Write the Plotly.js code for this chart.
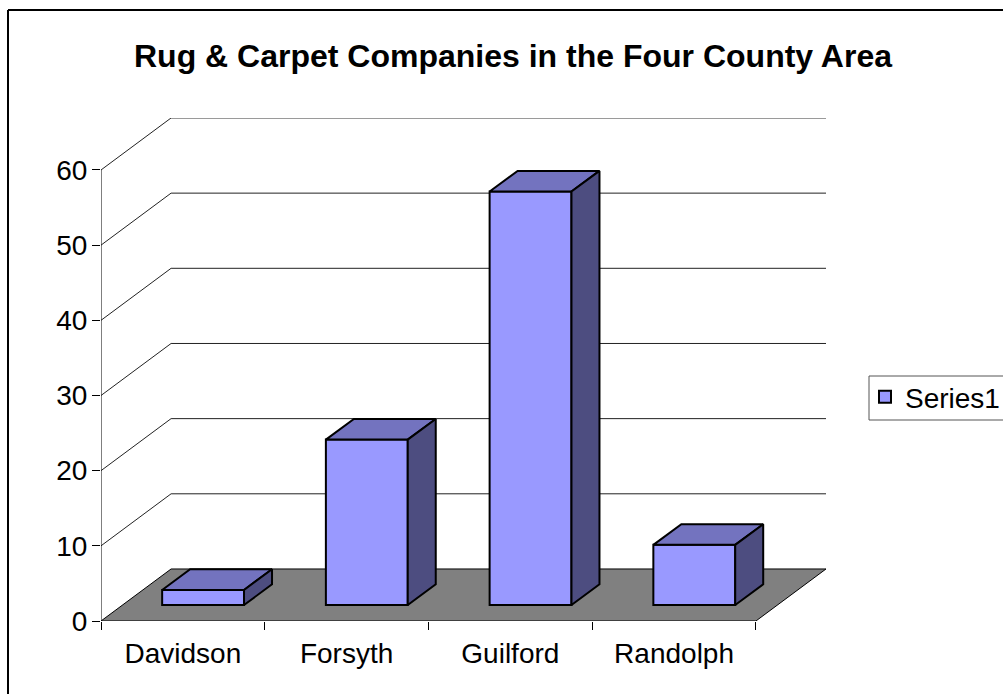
<!DOCTYPE html>
<html><head><meta charset="utf-8">
<script src="https://cdn.plot.ly/plotly-3.0.1.min.js"></script>
<style>html,body{margin:0;padding:0;background:#fff;overflow:hidden}</style>
</head><body><div id="chart" style="width:1003px;height:694px"></div>
<script>
var chartTitle = "Rug & Carpet Companies in the Four County Area";
var seriesName = "Series1";
var categories = ["Davidson", "Forsyth", "Guilford", "Randolph"];
var values = [2, 22, 55, 8];
var yTicks = [0, 10, 20, 30, 40, 50, 60];

var fontFamily = "Liberation Sans, Arial, sans-serif";
var wallDx = 0.428, wallDy = 6.92;
var barLeft = 0.3735, barWidth = 0.5, barBase = 2.13, barDx = 0.171, barDy = 2.75;
var nCat = categories.length;
var xIdx = categories.map(function (c, i) { return i; });

var traces = [];
// floor
traces.push({type: "scatter", mode: "lines", xaxis: "x", yaxis: "y", showlegend: false, hoverinfo: "skip",
  x: [0, nCat, nCat + wallDx, wallDx, 0], y: [0, 0, wallDy, wallDy, 0],
  fill: "toself", fillcolor: "#808080", line: {color: "#000", width: 1}});
// walls: gridlines for each tick above zero
yTicks.forEach(function (t) {
  if (t === 0) return;
  traces.push({type: "scatter", mode: "lines", xaxis: "x", yaxis: "y", showlegend: false, hoverinfo: "skip",
    x: [0, wallDx, nCat + wallDx], y: [t, t + wallDy, t + wallDy],
    line: {color: "#222", width: 1}});
});
// value axis line
traces.push({type: "scatter", mode: "lines", xaxis: "x", yaxis: "y", showlegend: false, hoverinfo: "skip",
  x: [0, 0], y: [0, yTicks[yTicks.length - 1]], line: {color: "#000", width: 1}});
// column fronts
traces.push({type: "bar", name: seriesName, xaxis: "x2", yaxis: "y", hoverinfo: "y",
  x: xIdx.map(function (i) { return i + barLeft + barWidth / 2; }),
  y: values, base: values.map(function () { return barBase; }), width: barWidth,
  marker: {color: "#9999FF", line: {color: "#000", width: 2}}});
// column tops and sides
values.forEach(function (v, i) {
  var l = i + barLeft, r = l + barWidth, top = barBase + v;
  traces.push({type: "scatter", mode: "lines", xaxis: "x2", yaxis: "y", showlegend: false, hoverinfo: "skip",
    x: [l, r, r + barDx, l + barDx, l], y: [top, top, top + barDy, top + barDy, top],
    fill: "toself", fillcolor: "#7373BF", line: {color: "#000", width: 2}});
  traces.push({type: "scatter", mode: "lines", xaxis: "x2", yaxis: "y", showlegend: false, hoverinfo: "skip",
    x: [r, r + barDx, r + barDx, r, r], y: [barBase, barBase + barDy, top + barDy, top, barBase],
    fill: "toself", fillcolor: "#4D4D80", line: {color: "#000", width: 2}});
});

var W = 1003, H = 694, mL = 101, mR = 177, mT = 118, mB = 73;
var pw = W - mL - mR, ph = H - mT - mB;
var px = function (p) { return (p - mL) / pw; };
var py = function (p) { return (H - mB - p) / ph; };

var layout = {
  width: W, height: H, paper_bgcolor: "#fff", plot_bgcolor: "rgba(0,0,0,0)",
  margin: {l: mL, r: mR, t: mT, b: mB, pad: 0, autoexpand: false},
  font: {family: fontFamily, color: "#000", size: 28},
  bargap: 0,
  title: {text: "<b>" + chartTitle + "</b>", x: 513 / W, xanchor: "center", xref: "container",
    y: 1 - 56 / H, yanchor: "middle", yref: "container", font: {family: fontFamily, size: 32, color: "#000"}},
  xaxis: {type: "linear", range: [0, nCat + wallDx], tickmode: "array",
    tickvals: xIdx.concat([nCat]), ticktext: xIdx.concat([nCat]).map(function () { return ""; }),
    ticks: "outside", ticklen: 8, tickcolor: "#000", tickwidth: 1, showgrid: false, zeroline: false, showline: false, fixedrange: true},
  xaxis2: {type: "linear", overlaying: "x", anchor: "y", side: "bottom", range: [0, nCat + wallDx], tickmode: "array",
    tickvals: xIdx.map(function (i) { return i + 0.5; }), ticktext: categories, ticks: "", ticklabelstandoff: 13,
    tickfont: {size: 28, family: fontFamily, color: "#000"}, showgrid: false, zeroline: false, showline: false, fixedrange: true},
  yaxis: {type: "linear", range: [0, (H - mB - mT) / 7.517], tickmode: "array", tickvals: yTicks, ticktext: yTicks.map(String),
    ticks: "outside", ticklen: 8, tickcolor: "#000", tickwidth: 1, ticklabelstandoff: -1,
    tickfont: {size: 28, family: fontFamily, color: "#000"}, showgrid: false, zeroline: false, showline: false, fixedrange: true},
  showlegend: true,
  legend: {x: px(865), y: py(372), xanchor: "left", yanchor: "top", bgcolor: "rgba(0,0,0,0)", borderwidth: 0,
    font: {size: 28, family: fontFamily, color: "#000"}, itemwidth: 30},
  shapes: [
    {type: "line", xref: "paper", yref: "paper", x0: px(8), x1: px(1010), y0: py(10), y1: py(10), line: {color: "#000", width: 2}},
    {type: "line", xref: "paper", yref: "paper", x0: px(8), x1: px(8), y0: py(10), y1: py(700), line: {color: "#000", width: 2}},
    {type: "rect", xref: "paper", yref: "paper", x0: px(869), x1: px(1010), y0: py(376), y1: py(420), line: {color: "#555", width: 1}}
  ]
};
Plotly.newPlot("chart", traces, layout, {displayModeBar: false, staticPlot: true});
</script></body></html>
